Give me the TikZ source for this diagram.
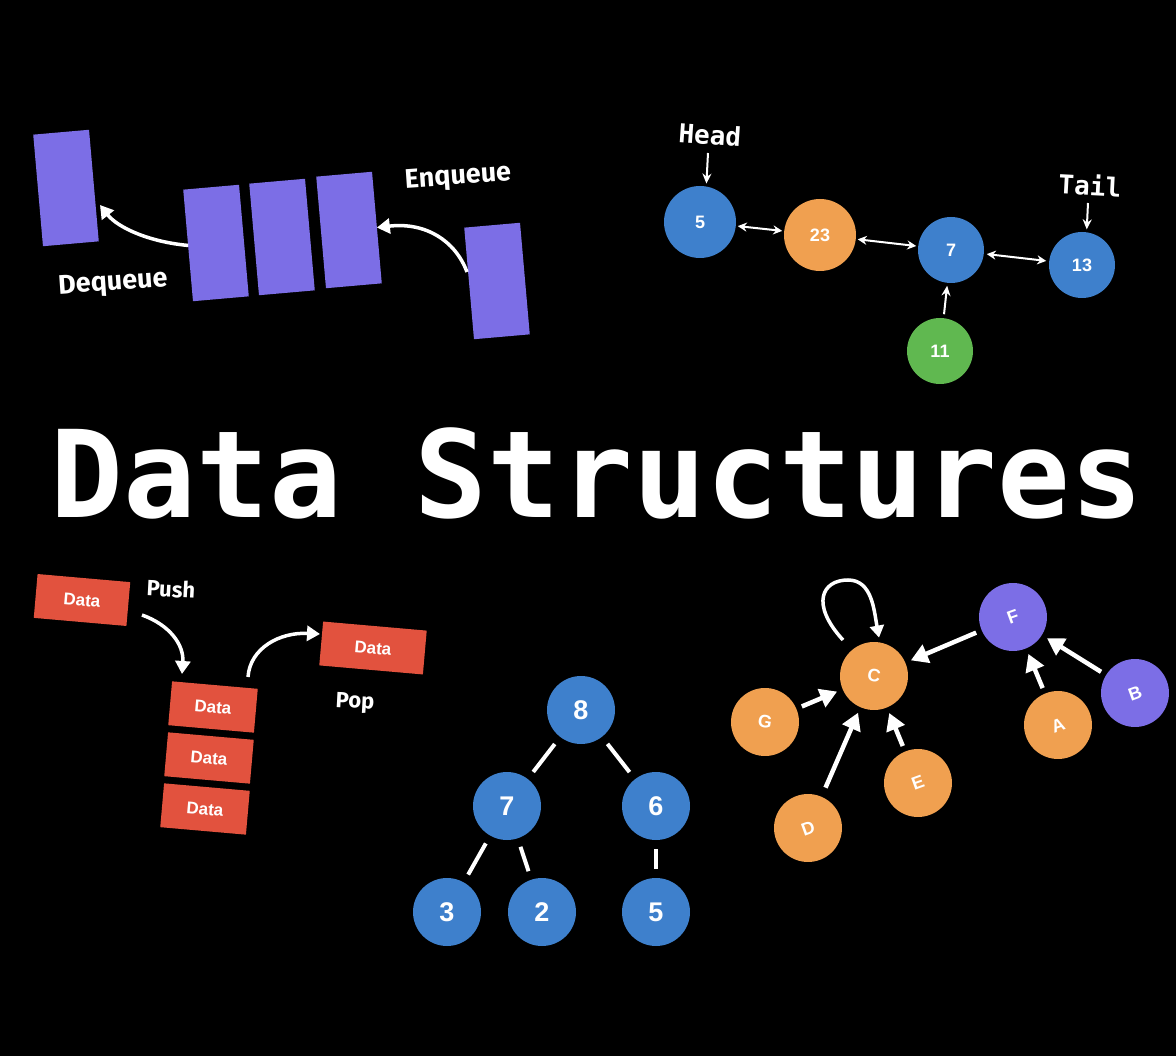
\documentclass[tikz,border=0pt]{standalone}
\usepackage{fontspec}
\usetikzlibrary{arrows.meta}
\newfontfamily\monofnt{DejaVu Sans Mono}
\newfontfamily\labfnt{Fira Sans}
\newfontfamily\helvfnt{Liberation Sans}
\definecolor{qpurple}{RGB}{124,110,230}
\definecolor{lblue}{RGB}{62,128,204}
\definecolor{lorange}{RGB}{240,160,80}
\definecolor{lgreen}{RGB}{96,184,80}
\definecolor{sred}{RGB}{226,82,62}
\tikzset{
  qbox/.style={fill=qpurple, minimum width=56pt, minimum height=112pt, inner sep=0pt, outer sep=0pt},
  dbox/.style={fill=sred, minimum width=86pt, minimum height=44pt, inner sep=0pt, text=white,
    font=\helvfnt\bfseries\fontsize{17}{17}\selectfont},
  lnode/.style={circle, inner sep=0pt, outer sep=0pt, text=white,
    font=\helvfnt\bfseries\fontsize{18}{18}\selectfont},
  tnode/.style={circle, fill=lblue, minimum size=68pt, inner sep=0pt, outer sep=0pt, text=white,
    font=\helvfnt\bfseries\fontsize{27}{27}\selectfont},
  gnode/.style={circle, minimum size=68pt, inner sep=0pt, outer sep=0pt, text=white,
    font=\helvfnt\bfseries\fontsize{18}{18}\selectfont},
  oplabel/.style={text=white, font=\labfnt\bfseries\fontsize{27}{27}\selectfont},
  stlabel/.style={text=white, font=\labfnt\bfseries\fontsize{22}{22}\selectfont},
  monolabel/.style={text=white, font=\monofnt\bfseries\fontsize{26}{26}\selectfont},
  thickarrow/.style={draw=white, line width=3.5pt, -{Triangle[length=13pt,width=15pt]}},
  thinarrow/.style={draw=white, line width=2pt, -{Stealth[length=10pt,width=9pt]}},
  dblarrow/.style={draw=white, line width=2pt, {Stealth[length=9pt,width=9pt]}-{Stealth[length=9pt,width=9pt]}},
  treeedge/.style={draw=white, line width=4pt, shorten >=9pt, shorten <=9pt},
  garrow/.style={draw=white, line width=4.5pt, -{Triangle[length=17pt,width=19pt]}, shorten >=6pt, shorten <=6pt},
}
\begin{document}
\begin{tikzpicture}[x=1pt,y=-1pt]
\fill[black] (0,0) rectangle (1176,1056);
\useasboundingbox (0,0) rectangle (1176,1056);

% ---------- Queue ----------
\node[qbox, rotate=5] (q1) at (66,188) {};
\node[qbox, rotate=5] (q2) at (216,243) {};
\node[qbox, rotate=5] (q3) at (282,237) {};
\node[qbox, rotate=5] (q4) at (349,230) {};
\node[qbox, rotate=5] (q5) at (497,281) {};
\node[oplabel, rotate=4] (enq) at (458,178) {Enqueue};
\node[oplabel, rotate=4] (deq) at (113,284) {Dequeue};
\coordinate (deqEnd) at (100,205);
\coordinate (enqStart) at (467,272);
\draw[thickarrow] (q2.west) .. controls (150,242) and (118,228) .. (deqEnd);
\draw[thickarrow] (enqStart) .. controls (455,240) and (425,222) .. (q4.east);

% ---------- Linked list ----------
\node[lnode, fill=lblue, minimum size=72pt] (l5) at (700,222) {5};
\node[lnode, fill=lorange, minimum size=72pt] (l23) at (820,235) {23};
\node[lnode, fill=lblue, minimum size=66pt] (l7) at (951,250) {7};
\node[lnode, fill=lblue, minimum size=66pt] (l13) at (1082,265) {13};
\node[lnode, fill=lgreen, minimum size=66pt] (l11) at (940,351) {11};
\node[monolabel, rotate=-4] (head) at (710,135) {Head};
\node[monolabel, rotate=-3] (tail) at (1090,185) {Tail};
\coordinate (headS) at (708,153);
\coordinate (tailS) at (1088,203);
\draw[thinarrow, shorten >=3pt] (headS) -- (l5.80);
\draw[thinarrow, shorten >=3pt] (tailS) -- (l13.82);
\draw[dblarrow, shorten <=2pt, shorten >=2pt] (l5) -- (l23);
\draw[dblarrow, shorten <=2pt, shorten >=2pt] (l23) -- (l7);
\draw[dblarrow, shorten <=3pt, shorten >=3pt] (l7) -- (l13);
\draw[thinarrow, shorten <=4pt, shorten >=3pt] (l11) -- (l7);

% ---------- Title ----------
\node[anchor=base, text=white, inner sep=0pt,
  font=\monofnt\bfseries\fontsize{121}{121}\selectfont] (title) at (597,518) {Data Structures};

% ---------- Stack ----------
\node[dbox, rotate=-5, minimum width=93pt] (d0) at (82,600) {Data};
\node[dbox, rotate=-5, minimum width=104pt] (dp) at (373,648) {Data};
\node[dbox, rotate=-5] (d1) at (213,707) {Data};
\node[dbox, rotate=-5] (d2) at (209,758) {Data};
\node[dbox, rotate=-5] (d3) at (205,809) {Data};
\node[stlabel, rotate=-3] (push) at (171,589) {Push};
\node[stlabel, rotate=-3] (pop) at (355,703) {Pop};
\coordinate (pushS) at (142,615);
\coordinate (pushE) at (182,674);
\coordinate (popS) at (248,677);
\coordinate (popE) at (320,634);
\draw[thickarrow] (pushS) .. controls (170,625) and (184,645) .. (pushE);
\draw[thickarrow] (popS) .. controls (250,648) and (280,632) .. (popE);

% ---------- Tree ----------
\node[tnode] (t8) at (581,710) {8};
\node[tnode] (t7) at (507,806) {7};
\node[tnode] (t6) at (656,806) {6};
\node[tnode] (t3) at (447,912) {3};
\node[tnode] (t2) at (542,912) {2};
\node[tnode] (t5) at (656,912) {5};
\draw[treeedge] (t8) -- (t7);
\draw[treeedge] (t8) -- (t6);
\draw[treeedge] (t7) -- (t3);
\draw[treeedge] (t7) -- (t2);
\draw[treeedge] (t6) -- (t5);

% ---------- Graph ----------
\node[gnode, fill=lorange, rotate=-10] (gC) at (874,676) {C};
\node[gnode, fill=qpurple, rotate=20] (gF) at (1013,617) {F};
\node[gnode, fill=qpurple, rotate=20] (gB) at (1135,693) {B};
\node[gnode, fill=lorange, rotate=20] (gA) at (1058,725) {A};
\node[gnode, fill=lorange, rotate=-10] (gG) at (765,722) {G};
\node[gnode, fill=lorange, rotate=20] (gE) at (918,783) {E};
\node[gnode, fill=lorange, rotate=20] (gD) at (808,828) {D};
\draw[garrow] (gF) -- (gC);
\draw[garrow] (gG) -- (gC);
\draw[garrow, shorten <=10pt] (gD) -- (gC);
\draw[garrow] (gE) -- (gC);
\draw[garrow] (gA) -- (gF);
\draw[garrow] (gB) -- (gF);
\coordinate (loopS) at (843,640);
\draw[draw=white, line width=3.5pt, -{Triangle[length=12pt,width=14pt]}, shorten >=5pt]
  (loopS) .. controls (810,604) and (822,580) .. (848,580)
  .. controls (872,580) and (874,610) .. (gC.north);
\end{tikzpicture}
\end{document}
